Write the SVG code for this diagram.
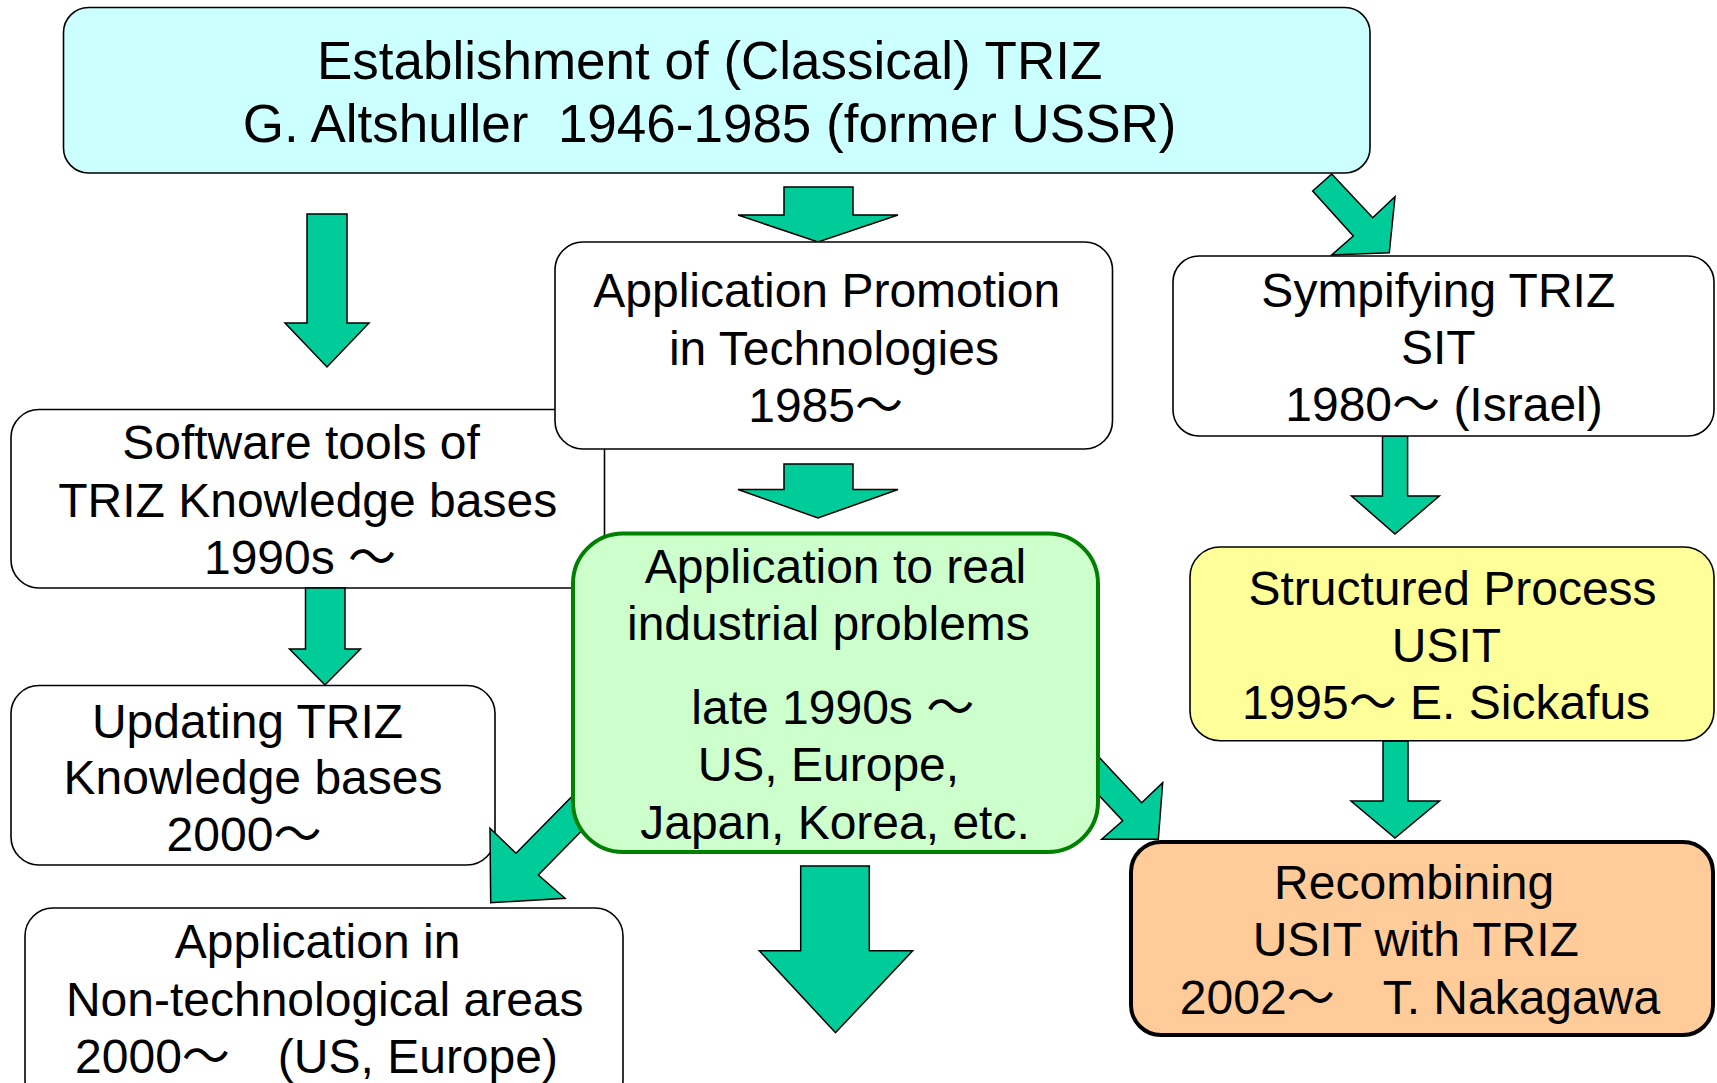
<svg xmlns="http://www.w3.org/2000/svg" width="1717" height="1083" viewBox="0 0 1717 1083">
<style>
text{font-family:"Liberation Sans","Noto Sans CJK JP",Arial,sans-serif;font-size:48px;fill:#000;text-anchor:middle;white-space:pre}
.t53{font-size:53px}
.box{stroke:#000;stroke-width:1.6}
.white{fill:#fff}
.arrow{fill:#00CC99;stroke:#000;stroke-width:1.5;stroke-linejoin:miter}
</style>
<rect width="1717" height="1083" fill="#fff"/>

<g id="node-software">
<rect class="box white" x="11" y="409.5" width="593.5" height="178.5" rx="28"/>
<text x="301" y="458.8">Software tools of</text>
<text x="307.7" y="516.7">TRIZ Knowledge bases</text>
<text x="300" y="574.2">1990s ～</text>
</g>

<g id="node-updating">
<rect class="box white" x="11" y="685.5" width="484" height="179.5" rx="28"/>
<text x="247.5" y="737.5">Updating TRIZ</text>
<text x="253" y="794.2">Knowledge bases</text>
<text x="244" y="850.8">2000～</text>
</g>

<g id="node-nontech">
<rect class="box white" x="25" y="908" width="598" height="200" rx="28"/>
<text x="317.6" y="957.5">Application in</text>
<text x="324.7" y="1016.3">Non-technological areas</text>
<text x="316.5" y="1072.9">2000～　(US, Europe)</text>
</g>

<g id="connectors">
<polygon class="arrow" points="307,214 347,214 347,323 369,323 327,367 285,323 307,323"/>
<polygon class="arrow" points="784,187 853,187 853,215 898,215 818,242 738,215 784,215"/>
<polygon class="arrow" points="784,464 853,464 853,489.5 898,489.5 818,518 738,489.5 784,489.5"/>
<polygon class="arrow" points="1331.7,174 1372.7,217.7 1395,196.7 1389.3,252.7 1331.7,255 1353.3,236 1312.7,191"/>
<polygon class="arrow" points="305.5,588 345,588 345,649 360.5,649 325,685 289.5,649 305.5,649"/>
<polygon class="arrow" points="1382.5,436 1407.6,436 1407.6,496 1439.3,496 1395,534 1351.5,496 1382.5,496"/>
<polygon class="arrow" points="1383,741 1408,741 1408,801 1439.5,801 1395,838 1351,801 1383,801"/>
<polygon class="arrow" points="598,770 516,853.3 490,828.3 490.7,902.7 565,898.3 538.3,875 620.2,791.6"/>
<polygon class="arrow" points="1074.3,730.8 1141.7,802.7 1162.7,782.7 1158.3,839.3 1101.7,839.3 1122.7,820.7 1055.2,748.7"/>
<polygon class="arrow" points="800.7,866 869.3,866 869.3,950.7 912.7,950.7 835.5,1032.7 759.3,950.7 800.7,950.7"/>
</g>

<g id="node-top">
<rect class="box" x="63.5" y="7.5" width="1306.5" height="165.5" rx="25" fill="#CCFFFF"/>
<text class="t53" x="709.6" y="79">Establishment of (Classical) TRIZ</text>
<text class="t53" x="709.6" y="142">G. Altshuller  1946-1985 (former USSR)</text>
</g>

<g id="node-promotion">
<rect class="box white" x="555" y="242" width="557.5" height="207" rx="28"/>
<text x="826.7" y="307">Application Promotion</text>
<text x="833.9" y="364.5">in Technologies</text>
<text x="825.6" y="422">1985～</text>
</g>

<g id="node-sit">
<rect class="box white" x="1173" y="256" width="541" height="180" rx="26"/>
<text x="1438.3" y="307">Sympifying TRIZ</text>
<text x="1438.3" y="364">SIT</text>
<text x="1444" y="421">1980～ (Israel)</text>
</g>

<g id="node-industrial">
<rect x="573" y="533.5" width="525" height="318.5" rx="50" fill="#CCFFCC" stroke="#008000" stroke-width="4"/>
<text x="835.5" y="582.8">Application to real</text>
<text x="828.4" y="640.3">industrial problems</text>
<text x="832.8" y="724">late 1990s ～</text>
<text x="828.4" y="781.4">US, Europe,</text>
<text x="835" y="838.9">Japan, Korea, etc.</text>
</g>

<g id="node-usit">
<rect class="box" x="1190" y="547" width="524" height="193.7" rx="30" fill="#FFFF99"/>
<text x="1452.5" y="604.7">Structured Process</text>
<text x="1446.5" y="661.5">USIT</text>
<text x="1446" y="719">1995～ E. Sickafus</text>
</g>

<g id="node-recombining">
<rect x="1131" y="842" width="582" height="193" rx="30" fill="#FFCC99" stroke="#000" stroke-width="4"/>
<text x="1414.2" y="898.8">Recombining</text>
<text x="1415.8" y="956.3">USIT with TRIZ</text>
<text x="1420" y="1013.7">2002～　T. Nakagawa</text>
</g>
</svg>
